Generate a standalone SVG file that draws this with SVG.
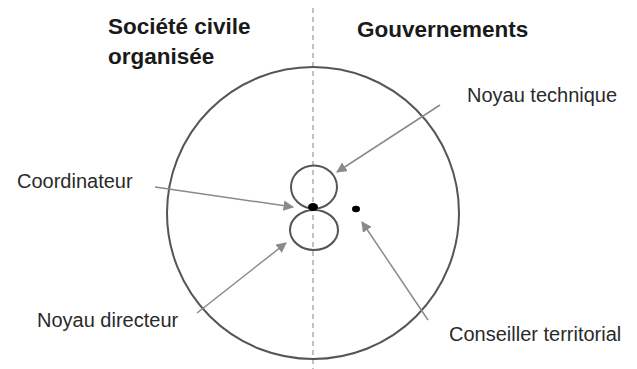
<svg xmlns="http://www.w3.org/2000/svg" width="637" height="369" viewBox="0 0 637 369">
<style>
.title{font-family:"Liberation Sans",Arial,sans-serif;font-weight:bold;font-size:22.5px;fill:#1a1a1a}
.lbl{font-family:"Liberation Sans",Arial,sans-serif;font-size:20px;fill:#2a2a2a}
.ring{fill:none;stroke:#555;stroke-width:2}
.arrow{stroke:#8a8a8a;stroke-width:1.5;fill:none;marker-end:url(#ah)}
.dot{fill:#000}
</style>
<defs>
<marker id="ah" viewBox="0 0 10 10" refX="9" refY="5" markerWidth="7" markerHeight="7" markerUnits="strokeWidth" orient="auto">
<path d="M0,0 L10,5 L0,10 z" fill="#8a8a8a"/>
</marker>
</defs>
<rect width="637" height="369" fill="#fff"/>
<line id="divider" x1="313" y1="8" x2="313" y2="369" stroke="#999" stroke-width="1.2" stroke-dasharray="5 4"/>
<g id="societe"><text class="title" x="108" y="34">Société civile</text><text class="title" x="108" y="64">organisée</text></g>
<g id="gouvernements"><text class="title" x="357" y="37">Gouvernements</text></g>
<g id="territoire"><circle class="ring" cx="313" cy="213" r="146"/></g>
<g id="noyau-technique"><ellipse class="ring" cx="314" cy="187" rx="23" ry="21.5"/><text class="lbl" x="467" y="102">Noyau technique</text></g>
<g id="noyau-directeur"><ellipse class="ring" cx="314" cy="230" rx="24" ry="20"/><text class="lbl" x="37" y="327">Noyau directeur</text></g>
<g id="coordinateur"><ellipse class="dot" cx="313" cy="207" rx="5" ry="4"/><text class="lbl" x="17" y="188">Coordinateur</text></g>
<g id="conseiller"><ellipse class="dot" cx="356" cy="209" rx="4" ry="3.2"/><text class="lbl" x="449" y="341">Conseiller territorial</text></g>
<g id="connectors">
<line class="arrow" x1="440" y1="105" x2="337" y2="172"/>
<line class="arrow" x1="155" y1="187" x2="293" y2="207"/>
<line class="arrow" x1="197" y1="313" x2="286" y2="243"/>
<line class="arrow" x1="428" y1="320" x2="362" y2="222"/>
</g>
</svg>
